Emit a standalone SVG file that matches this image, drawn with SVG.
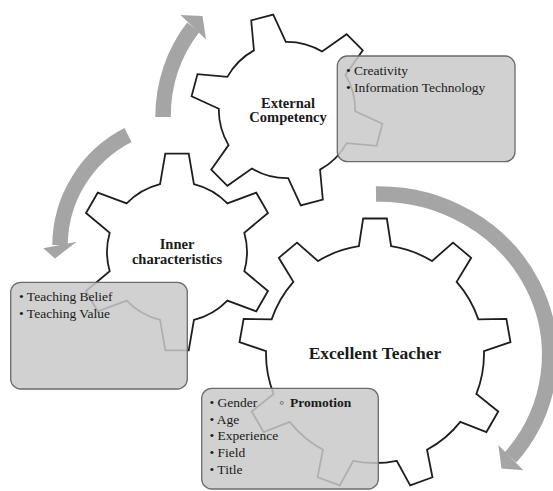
<svg xmlns="http://www.w3.org/2000/svg" xmlns:xlink="http://www.w3.org/1999/xlink" width="553" height="491" viewBox="0 0 553 491">
  <style>
    .gear { fill: #ffffff; stroke: #1e1e1e; stroke-width: 1.8; stroke-linejoin: miter; }
    .box { fill: #c9c9c9; fill-opacity: 0.85; stroke: #6b6b6b; stroke-width: 1.3; }
    .shaft { fill: none; stroke: #a5a5a5; stroke-width: 15.5; stroke-linecap: butt; }
    .head { fill: #a5a5a5; }
    .label { font-family: "Liberation Serif", "Times New Roman", serif; font-weight: bold; fill: #1a1a1a; text-anchor: middle; }
    .item { font-family: "Liberation Serif", "Times New Roman", serif; font-size: 13.5px; fill: #1a1a1a; }
  </style>
  <defs>
    <!-- six-tooth gear, centred on the origin -->
    <path id="gear6" d="M-16.93,-67.92 L-11.72,-98.31 L11.72,-98.31 L16.93,-67.92 A70,70 0 0 1 50.35,-48.63 L79.27,-59.30 L90.99,-39.00 L67.29,-19.29 A70,70 0 0 1 67.29,19.29 L90.99,39.00 L79.27,59.30 L50.35,48.63 A70,70 0 0 1 16.93,67.92 L11.72,98.31 L-11.72,98.31 L-16.93,67.92 A70,70 0 0 1 -50.35,48.63 L-79.27,59.30 L-90.99,39.00 L-67.29,19.29 A70,70 0 0 1 -67.29,-19.29 L-90.99,-39.00 L-79.27,-59.30 L-50.35,-48.63 A70,70 0 0 1 -16.93,-67.92 Z"/>
  </defs>

  <rect width="553" height="491" fill="#ffffff"/>

  <!-- large nine-tooth gear -->
  <g id="gear-excellent-teacher">
    <path class="gear" transform="translate(375,354)" d="M-16.11,-107.80 L-11.86,-135.48 L11.86,-135.48 L16.11,-107.80 A109,109 0 0 1 56.95,-92.93 L78.01,-111.41 L96.17,-96.17 L81.64,-72.22 A109,109 0 0 1 103.36,-34.59 L131.36,-35.20 L135.48,-11.86 L108.97,-2.86 A109,109 0 0 1 101.41,39.95 L123.26,57.47 L111.41,78.01 L85.30,67.85 A109,109 0 0 1 52.01,95.79 L57.47,123.26 L35.20,131.36 L21.73,106.81 A109,109 0 0 1 -21.73,106.81 L-35.20,131.36 L-57.47,123.26 L-52.01,95.79 A109,109 0 0 1 -85.30,67.85 L-111.41,78.01 L-123.26,57.47 L-101.41,39.95 A109,109 0 0 1 -108.97,-2.86 L-135.48,-11.86 L-131.36,-35.20 L-103.36,-34.59 A109,109 0 0 1 -81.64,-72.22 L-96.17,-96.17 L-78.01,-111.41 L-56.95,-92.93 A109,109 0 0 1 -16.11,-107.80 Z"/>
    <text class="label" x="375" y="359" font-size="17.5">Excellent Teacher</text>
  </g>

  <!-- left six-tooth gear -->
  <g id="gear-inner">
    <use xlink:href="#gear6" href="#gear6" class="gear" transform="translate(177,252)"/>
    <text class="label" font-size="14.5"><tspan x="177" y="248.5">Inner</tspan><tspan x="177" y="263.5">characteristics</tspan></text>
  </g>

  <!-- upper six-tooth gear, turned slightly -->
  <g id="gear-external">
    <use xlink:href="#gear6" href="#gear6" class="gear" transform="translate(287,110) rotate(-15) scale(0.974)"/>
    <text class="label" font-size="14.5"><tspan x="288" y="107.5">External</tspan><tspan x="288" y="122">Competency</tspan></text>
  </g>

  <!-- detail boxes -->
  <g id="box-external">
    <rect class="box" x="337.3" y="56" width="177.7" height="105.7" rx="10"/>
    <text class="item"><tspan x="346" y="75">• Creativity</tspan><tspan x="346" y="91.7">• Information Technology</tspan></text>
  </g>

  <g id="box-inner">
    <rect class="box" x="10.7" y="282.3" width="176.6" height="106.7" rx="10"/>
    <text class="item"><tspan x="19" y="300.7">• Teaching Belief</tspan><tspan x="19" y="317.5">• Teaching Value</tspan></text>
  </g>

  <g id="box-excellent-teacher">
    <rect class="box" x="201.7" y="388.3" width="176.6" height="100.7" rx="10"/>
    <text class="item">
      <tspan x="209.5" y="407">• Gender</tspan>
      <tspan x="209.5" y="423.7">• Age</tspan>
      <tspan x="209.5" y="440.3">• Experience</tspan>
      <tspan x="209.5" y="457">• Field</tspan>
      <tspan x="209.5" y="473.7">• Title</tspan>
    </text>
    <text class="item" x="279" y="407">◦ <tspan x="290" font-weight="bold">Promotion</tspan></text>
  </g>

  <!-- circular arrows between the gears -->
  <g id="connectors">
    <path class="shaft" d="M163,117 A127,139 0 0 1 193.25,27.25"/>
    <polygon class="head" points="180.5,15 202.5,16 206,39.5"/>

    <path class="shaft" d="M128,135 A125,125 0 0 0 60,245"/>
    <polygon class="head" points="43.3,248.3 76.7,241.7 55,258.5"/>

    <path class="shaft" d="M376,194 A171,161 0 0 1 510.5,457.5"/>
    <polygon class="head" points="498.3,445 523.3,470.2 501.5,468.5"/>
  </g>
</svg>
